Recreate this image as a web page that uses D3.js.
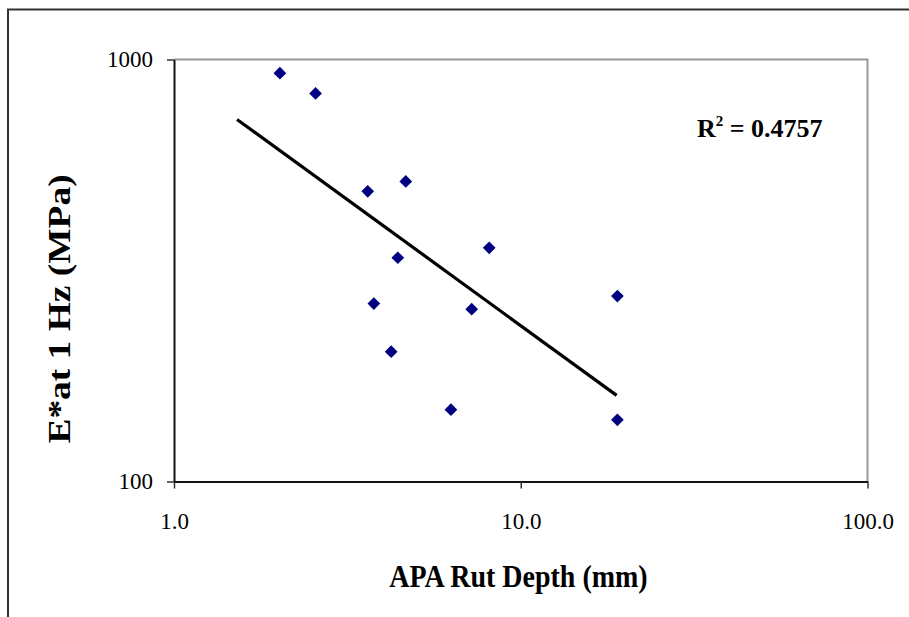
<!DOCTYPE html>
<html>
<head>
<meta charset="utf-8">
<script src="https://cdn.jsdelivr.net/npm/d3@7"></script>
<style>
  html, body { margin: 0; padding: 0; background: #fff; }
  svg { display: block; }
</style>
</head>
<body>
<svg id="chart"></svg>
<script>
//DATA
const rutDepth = [2.02, 2.56, 3.62, 4.66, 8.11, 4.42, 3.77, 7.22, 4.23, 6.29, 19.0, 19.0];
const eStar    = [928, 831, 487, 514, 358, 339, 264, 256, 203, 148, 275, 140];
const trendX = [1.52, 18.9];
const trendY = [721, 160];
const xTicks = [1, 10, 100];
const yTicks = [100, 1000];
const rSquared = "0.4757";

//SET CONSTANTS
const width = 909;
const height = 617;
const serif = "Liberation Serif, Times New Roman, serif";
const plot = {left: 174, right: 867.5, top: 59.5, bottom: 481.5};

var chart = d3.select("#chart")
              .attr("width", width)
              .attr("height", height)
              .attr("font-family", serif);

//outer frame (only top and left visible)
chart.append("path")
  .attr("d", "M8,617V9.5H909")
  .attr("fill", "none")
  .attr("stroke", "#333")
  .attr("stroke-width", 2);

var xScale = d3.scaleLog().domain([1, 100]).range([plot.left, plot.right]);
var yScale = d3.scaleLog().domain([100, 1000]).range([plot.bottom, plot.top]);

//gray top + right border of plot area
chart.append("path")
  .attr("d", "M" + plot.left + "," + plot.top + "H" + plot.right + "V" + plot.bottom)
  .attr("fill", "none")
  .attr("stroke", "#999")
  .attr("stroke-width", 2);

//axes
var xAxis = chart.append("g")
  .attr("transform", "translate(0," + plot.bottom + ")")
  .call(d3.axisBottom(xScale).tickValues(xTicks).tickFormat(d3.format(".1f"))
        .tickSize(7).tickSizeOuter(0).tickPadding(24));

var yAxis = chart.append("g")
  .attr("transform", "translate(" + plot.left + ",0)")
  .call(d3.axisLeft(yScale).tickValues(yTicks).tickFormat(d3.format("d"))
        .tickSize(7).tickSizeOuter(0).tickPadding(14));

[xAxis, yAxis].forEach(function(ax) {
  ax.attr("font-family", serif).attr("font-size", 23);
  ax.select(".domain").attr("stroke", "#111").attr("stroke-width", 2);
  ax.selectAll(".tick line").attr("stroke", "#333").attr("stroke-width", 1.5);
  ax.selectAll(".tick text").attr("fill", "#000");
});

//trend line
var line = d3.line()
  .x((d) => xScale(d[0]))
  .y((d) => yScale(d[1]));

chart.append("path")
  .datum(trendX.map((x, i) => [x, trendY[i]]))
  .attr("d", line)
  .attr("fill", "none")
  .attr("stroke", "#000")
  .attr("stroke-width", 3.2);

//points (diamonds)
var diamond = d3.symbol().type(d3.symbolSquare).size(81);

chart.selectAll(".pt")
  .data(rutDepth.map((x, i) => [x, eStar[i]]))
  .enter().append("path")
  .attr("class", "pt")
  .attr("d", diamond)
  .attr("transform", (d) => "translate(" + xScale(d[0]) + "," + yScale(d[1]) + ") rotate(45)")
  .attr("fill", "#000080");

//R squared label
var r2 = chart.append("text")
  .attr("x", 697)
  .attr("y", 137)
  .attr("font-weight", "bold")
  .attr("font-size", 26);
r2.append("tspan").text("R");
r2.append("tspan").attr("dy", -11).attr("font-size", 15).text("2");
r2.append("tspan").attr("dy", 11).text(" = " + rSquared);

//axis titles
chart.append("text")
  .attr("transform", "translate(518.5,587) scale(1,1.1)")
  .attr("text-anchor", "middle")
  .attr("font-weight", "bold")
  .attr("font-size", 28)
  .text("APA Rut Depth (mm)");

chart.append("text")
  .attr("transform", "translate(70,309) rotate(-90) scale(1.17,1)")
  .attr("text-anchor", "middle")
  .attr("font-weight", "bold")
  .attr("font-size", 32)
  .text("E*at 1 Hz (MPa)");
</script>
</body>
</html>
